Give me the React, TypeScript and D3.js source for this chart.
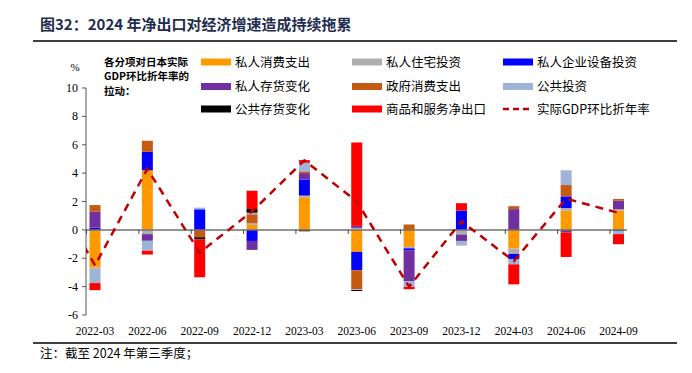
import * as d3 from "d3";

const width = 692;
const height = 373;

// quarters on the x axis
const quarters = [
  "2022-03", "2022-06", "2022-09", "2022-12", "2023-03", "2023-06",
  "2023-09", "2023-12", "2024-03", "2024-06", "2024-09",
];

// contribution of each component to real GDP (q/q annualised, %pt)
const privateConsumption = [-2.65, 4.2, 0, 0.35, 2.3, -1.55, -1.2, 0, -1.3, 1.35, 1.35];
const privateResidential = [-0.1, -0.3, 0, 0.12, 0.12, 0.14, -0.1, -0.33, -0.4, 0.19, 0.1];
const privateBusiness = [0.15, 1.3, 1.45, -0.78, 1.13, -1.3, -0.16, 1.36, -0.35, 0.82, -0.07];
const privateInventory = [1.13, -0.47, 0, -0.63, 0.45, 0.14, -2.16, -0.45, 1.46, -0.19, 0.61];
const governmentConsumption = [0.47, 0.78, -0.52, 0.63, 0.12, -1.34, 0.38, 0, 0.21, 0.8, 0.12];
const publicInvestment = [-1.0, -0.7, 0.12, 0.11, 0.61, -0.05, -0.4, -0.33, -0.38, 1.04, -0.23];
const publicInventory = [0, 0, -0.14, 0.26, -0.1, -0.07, 0, 0, 0, 0, 0];
const netExports = [-0.5, -0.27, -2.68, 1.29, 0.19, 5.88, -0.16, 0.52, -1.41, -1.72, -0.71];

// real GDP q/q annualised, previous quarter (2021-12) is cut off by the axis
const gdpPrev = 4.0;
const gdp = [-2.5, 4.3, -1.6, 1.3, 4.9, 2.0, -4.0, 0.6, -2.2, 2.2, 1.2];

const yTicks = [10, 8, 6, 4, 2, 0, -2, -4, -6];

const seriesNames = [
  "私人消费支出", "私人住宅投资", "私人企业设备投资", "私人存货变化",
  "政府消费支出", "公共投资", "公共存货变化", "商品和服务净出口",
];
const seriesValues = [
  privateConsumption, privateResidential, privateBusiness, privateInventory,
  governmentConsumption, publicInvestment, publicInventory, netExports,
];
const colors = [
  "#FF9900", "#AEAEAE", "#0000FF", "#7030A0",
  "#C55A11", "#9FB3D6", "#000000", "#FF0000",
];
const lineName = "实际GDP环比折年率";
const lineColor = "#C00000";
const legendTitle = ["各分项对日本实际", "GDP环比折年率的", "拉动："];

const serif = "'Liberation Serif', 'Times New Roman', serif";
const cjk = "'Noto Sans CJK SC', 'Noto Sans', sans-serif";

const App = () => {
  const x = d3.scalePoint<string>().domain(quarters).range([95, 618.5]);
  const step = x.step();
  const y = d3.scaleLinear().domain([-6, 10]).range([315, 88]);
  const barW = 11;

  const table = quarters.map((q, i) => {
    const row: any = { q };
    seriesNames.forEach((n, k) => (row[n] = seriesValues[k][i]));
    return row;
  });
  const stacked = d3.stack<any>().keys(seriesNames).offset(d3.stackOffsetDiverging)(table);

  const linePts: [number, number][] = [[x(quarters[0])! - step, gdpPrev]];
  quarters.forEach((q, i) => linePts.push([x(q)!, gdp[i]]));
  const line = d3.line<[number, number]>().x(d => d[0]).y(d => y(d[1]));

  // legend grid
  const legendCols = [201, 352, 503];
  const legendRows = [62, 86.5, 109];
  const legendItems = [...seriesNames.map((n, i) => ({ n, c: colors[i], line: false })), { n: lineName, c: lineColor, line: true }];

  return (
    <svg width={width} height={height} style={{ position: "absolute", left: 0, top: 0, background: "#fff" }}>
      <defs>
        <clipPath id="plotClip">
          <rect x={86} y={60} width={560} height={270} />
        </clipPath>
      </defs>

      {/* title */}
      <text x={40} y={30} fontFamily={cjk} fontWeight="bold" fontSize={15} fill="#1F2D50">
        图32：2024 年净出口对经济增速造成持续拖累
      </text>
      <line x1={33} x2={677} y1={41} y2={41} stroke="#000" strokeWidth={1.5} />

      {/* legend */}
      {legendTitle.map((t, i) => (
        <text key={t} x={104} y={65.5 + i * 14.5} fontFamily={cjk} fontWeight="bold" fontSize={10.5} fill="#000">
          {t}
        </text>
      ))}
      {legendItems.map((it, i) => {
        const cx = legendCols[i % 3];
        const cy = legendRows[Math.floor(i / 3)];
        return (
          <g key={it.n}>
            {it.line ? (
              <line x1={cx} x2={cx + 30} y1={cy} y2={cy} stroke={it.c} strokeWidth={2.5} strokeDasharray="6,4" />
            ) : (
              <rect x={cx} y={cy - 3.5} width={30} height={7} fill={it.c} />
            )}
            <text x={cx + 34} y={cy + 4.5} fontFamily={cjk} fontSize={12.5} fill="#000">
              {it.n}
            </text>
          </g>
        );
      })}

      {/* y axis */}
      <text x={75} y={71} textAnchor="middle" fontFamily={serif} fontSize={11}>%</text>
      <line x1={86} x2={86} y1={y(10)} y2={y(-6)} stroke="#555" strokeWidth={1} />
      {yTicks.map(t => (
        <g key={t}>
          <line x1={82} x2={86} y1={y(t)} y2={y(t)} stroke="#555" />
          <text x={78} y={y(t) + 4} textAnchor="end" fontFamily={serif} fontSize={12} fill="#000">
            {t}
          </text>
        </g>
      ))}

      {/* bars */}
      {stacked.map((s, k) => (
        <g key={s.key} fill={colors[k]}>
          {s.map((d, i) =>
            d[1] - d[0] === 0 ? null : (
              <rect
                key={i}
                x={x(quarters[i])! - barW / 2}
                width={barW}
                y={y(Math.max(d[0], d[1]))}
                height={Math.abs(y(d[0]) - y(d[1]))}
              />
            )
          )}
        </g>
      ))}

      {/* zero axis */}
      <line x1={86} x2={627} y1={y(0)} y2={y(0)} stroke="#707070" strokeWidth={1.5} />
      {quarters.map(q => (
        <line key={q} x1={x(q)! - 8.5} x2={x(q)! - 8.5} y1={y(0)} y2={y(0) + 4} stroke="#444" />
      ))}

      {/* GDP line */}
      <path
        d={line(linePts) ?? ""}
        clipPath="url(#plotClip)"
        fill="none"
        stroke={lineColor}
        strokeWidth={2.5}
        strokeDasharray="8,6"
      />

      {/* x labels */}
      {quarters.map(q => (
        <text key={q} x={x(q)} y={335} textAnchor="middle" fontFamily={serif} fontSize={11.5} fill="#000">
          {q}
        </text>
      ))}

      <line x1={33} x2={677} y1={343} y2={343} stroke="#000" strokeWidth={1.5} />
      <text x={40} y={358} fontFamily={cjk} fontSize={12.5} fill="#000">
        注：截至 2024 年第三季度；
      </text>
    </svg>
  );
};

export default App;
